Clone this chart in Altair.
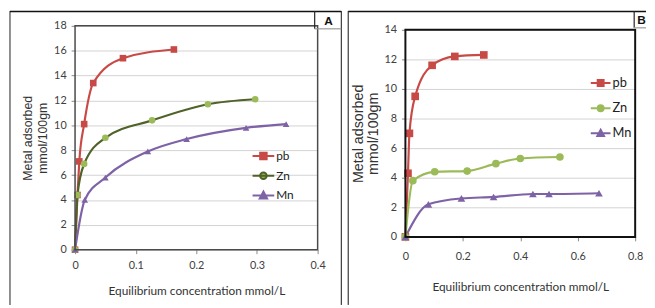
import altair as alt
import pandas as pd

series_names = ["pb", "Zn", "Mn"]

# Panel A values
a_pb_x = [0, 0.004, 0.007, 0.015, 0.030, 0.079, 0.163]
a_pb_y = [0, 4.4, 7.1, 10.1, 13.4, 15.4, 16.1]
a_zn_x = [0, 0.004, 0.015, 0.050, 0.127, 0.219, 0.297]
a_zn_y = [0, 4.4, 6.9, 9.0, 10.4, 11.7, 12.1]
a_mn_x = [0, 0.016, 0.050, 0.120, 0.184, 0.282, 0.348]
a_mn_y = [0, 4.0, 5.8, 7.9, 8.9, 9.8, 10.1]

# Panel B values
b_pb_x = [0, 0.009, 0.014, 0.034, 0.093, 0.172, 0.273]
b_pb_y = [0, 4.3, 7.0, 9.5, 11.6, 12.2, 12.3]
b_zn_x = [0, 0.026, 0.102, 0.215, 0.315, 0.400, 0.538]
b_zn_y = [0, 3.8, 4.4, 4.45, 4.95, 5.3, 5.4]
b_mn_x = [0, 0.080, 0.195, 0.307, 0.444, 0.500, 0.674]
b_mn_y = [0, 2.2, 2.6, 2.7, 2.9, 2.9, 2.95]

a_x_ticks = [0, 0.1, 0.2, 0.3, 0.4]
a_y_ticks = [0, 2, 4, 6, 8, 10, 12, 14, 16, 18]
b_x_ticks = [0, 0.2, 0.4, 0.6, 0.8]
b_y_ticks = [0, 2, 4, 6, 8, 10, 12, 14]

x_title = "Equilibrium concentration mmol/L"
y_title = ["Metal adsorbed", "mmol/100gm"]

LABEL_FONT = "Lato"
TITLE_FONT = "Liberation Sans"

PB = "#C84A46"
ZN_LIGHT = "#9BBB59"
ZN_DARK = "#4F6228"
MN = "#7E62A6"

SQ = "M-1,0L1,0M-0.3,-0.3L0.3,-0.3L0.3,0.3L-0.3,0.3Z"
CI = "M-1,0L1,0M-0.3,0A0.3,0.3 0 1,0 0.3,0A0.3,0.3 0 1,0 -0.3,0Z"
TR = "M-1,0L1,0M0,-0.36L0.34,0.28L-0.34,0.28Z"
marker_shapes = ["square", "circle", "triangle-up"]


def make_df(xs_list, ys_list):
    rows = []
    for name, xs, ys in zip(series_names, xs_list, ys_list):
        for i, (x, y) in enumerate(zip(xs, ys)):
            rows.append({"series": name, "x": x, "y": y, "i": i})
    return pd.DataFrame(rows)


one = pd.DataFrame({"k": [0]})


def vrule(x, y1, y2, color, w):
    return alt.Chart(one).mark_rule(color=color, strokeWidth=w).encode(
        x=alt.value(x), y=alt.value(y1), y2=alt.value(y2))


def hrule(y, x1, x2, color, w):
    return alt.Chart(one).mark_rule(color=color, strokeWidth=w).encode(
        x=alt.value(x1), x2=alt.value(x2), y=alt.value(y))


def panel(df, xmax, xt, ymax, yt, w, h, line_colors, marker_colors,
          msize, leg_x, leg_y, leg_size, leg_row, leg_font,
          ytitle_size, ytitle_lh, ytitle_x, xlab_pad, xtitle_y,
          frame_color, frame_w, frame_top, deco):
    xs = alt.X("x:Q", scale=alt.Scale(domain=[0, xmax], nice=False, zero=False),
               axis=alt.Axis(values=xt, format="~g", grid=False, domain=False,
                             tickSize=4, tickColor="#888", labelColor="#404040",
                             labelFont=LABEL_FONT, labelFontSize=11, labelPadding=xlab_pad,
                             labelOverlap=False, labelFlush=False,
                             title=x_title, titleFont=LABEL_FONT, titleFontSize=12,
                             titleFontWeight="normal", titleColor="#333",
                             titleX=w / 2, titleY=xtitle_y, titleAlign="center",
                             titleBaseline="middle", titleAngle=0))
    ys = alt.Y("y:Q", scale=alt.Scale(domain=[0, ymax], nice=False),
               axis=alt.Axis(values=yt, grid=True, gridColor="#d2d2d2", gridWidth=1,
                             domain=False, tickSize=4, tickColor="#888",
                             labelColor="#404040", labelFont=LABEL_FONT, labelFontSize=11,
                             labelPadding=5, labelOverlap=False, labelFlush=False,
                             title=y_title, titleFont=TITLE_FONT, titleFontSize=ytitle_size,
                             titleFontWeight="normal", titleColor="#333",
                             titleLineHeight=ytitle_lh,
                             titleX=ytitle_x, titleY=(h + frame_top) / 2, titleAngle=270,
                             titleAlign="center", titleBaseline="middle"))
    shape_expr = ("datum.value === 'pb' ? '%s' : datum.value === 'Zn' ? '%s' : '%s'"
                  % (SQ, CI, TR))
    fill_expr = ("datum.value === 'pb' ? '%s' : datum.value === 'Zn' ? '%s' : '%s'"
                 % tuple(marker_colors))
    base = alt.Chart(df)
    lines = base.mark_line(interpolate="monotone", strokeWidth=2.2).encode(
        x=xs, y=ys,
        stroke=alt.Stroke("series:N", sort=series_names,
                          scale=alt.Scale(domain=series_names, range=line_colors),
                          legend=alt.Legend(
                              orient="none", legendX=leg_x, legendY=leg_y, title=None,
                              padding=0, symbolSize=leg_size, symbolStrokeWidth=2,
                              symbolType=alt.ExprRef(expr=shape_expr),
                              symbolFillColor=alt.ExprRef(expr=fill_expr),
                              symbolOpacity=1,
                              labelFont=LABEL_FONT, labelFontSize=leg_font,
                              labelColor="#222", labelOffset=1, rowPadding=leg_row)),
        detail="series:N", order="i:Q")
    layers = [lines]
    for name, shp, col in zip(series_names, marker_shapes, marker_colors):
        layers.append(
            base.transform_filter(alt.datum.series == name)
            .mark_point(filled=True, opacity=1, size=msize, shape=shp, color=col)
            .encode(x=xs, y=ys))
    frame = alt.Chart(one).mark_rect(fill=None, stroke=frame_color, strokeWidth=frame_w).encode(
        x=alt.value(0), x2=alt.value(w), y=alt.value(frame_top), y2=alt.value(h))
    layers = layers + [frame] + deco
    return alt.layer(*layers).properties(width=w, height=h)


df_a = make_df([a_pb_x, a_zn_x, a_mn_x], [a_pb_y, a_zn_y, a_mn_y])
df_b = make_df([b_pb_x, b_zn_x, b_mn_x], [b_pb_y, b_zn_y, b_mn_y])

# Panel A: plot origin at page (76, 23), size 246 x 227
deco_a = [
    alt.Chart(one).mark_rect(fill="white", opacity=0).encode(
        x=alt.value(-68), x2=alt.value(270), y=alt.value(-15), y2=alt.value(283)),
    vrule(-66, -15, 283, "#6a6a6a", 1.5),
    hrule(-14.5, -66, 270, "#111", 1.5),
    vrule(270, -15, 283, "#111", 1),
    vrule(243, -15, 3, "#222", 1.2),
    hrule(3, 243, 270, "#999", 1.2),
    alt.Chart(one).mark_text(text="A", font=TITLE_FONT, fontSize=12, fontWeight="bold",
                             color="#111", align="center", baseline="middle").encode(
        x=alt.value(257), y=alt.value(-5)),
]
panel_a = panel(df_a, 0.4, a_x_ticks, 18, a_y_ticks, 246, 227,
                [PB, ZN_DARK, MN], [PB, ZN_LIGHT, MN], 45,
                179, 120, 484, 0, 12, 12.5, 15, -48, 6, 41, "#4a4a4a", 1.5, 0, deco_a)

# Panel B: plot origin at page (410, 23), size 233 x 214; visible frame starts 4px lower (value 14)
B_H = 214
B_TOP = 4
b_ymax = 14 * B_H / (B_H - B_TOP)
deco_b = [
    alt.Chart(one).mark_rect(fill="white", opacity=0).encode(
        x=alt.value(-58), x2=alt.value(244), y=alt.value(-15), y2=alt.value(283)),
    vrule(-58, -15, 283, "#111", 1),
    hrule(-14.5, -58, 244, "#111", 1.5),
    vrule(232, -15, 2, "#222", 1.2),
    hrule(2, 232, 244, "#999", 1.2),
    alt.Chart(one).mark_text(text="B", font=TITLE_FONT, fontSize=12, fontWeight="bold",
                             color="#111", align="left", baseline="middle").encode(
        x=alt.value(235), y=alt.value(-6)),
]
panel_b = panel(df_b, 0.8, b_x_ticks, b_ymax, b_y_ticks, 233, B_H,
                [PB, ZN_LIGHT, MN], [PB, ZN_LIGHT, MN], 60,
                187, 47, 400, 7.5, 13, 14.5, 14.5, -47, 10, 50, "#111", 2, B_TOP, deco_b)

chart = alt.hconcat(panel_a, panel_b, spacing=5).resolve_scale(
    stroke="independent"
).resolve_legend(stroke="independent").properties(
    padding=0, background="white"
).configure_view(stroke=None).configure_axis(labelOverlap=False)

chart.save("out.html", embed_options={"renderer": "svg", "actions": False})
